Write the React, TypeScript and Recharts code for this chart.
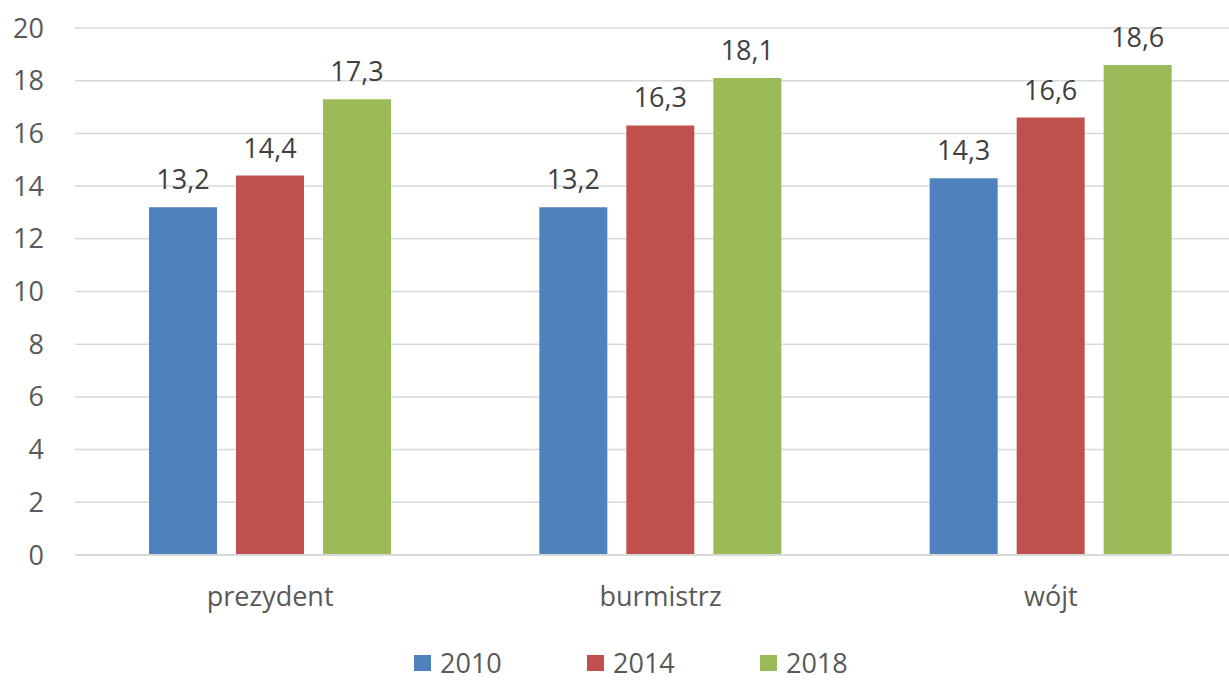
import { BarChart, Bar, XAxis, YAxis, CartesianGrid, Legend, LabelList } from 'recharts';

const categories = ['prezydent', 'burmistrz', 'wójt'];
const years = ['2010', '2014', '2018'];
const values2010 = [13.2, 13.2, 14.3];
const values2014 = [14.4, 16.3, 16.6];
const values2018 = [17.3, 18.1, 18.6];
const yTicks = [0, 2, 4, 6, 8, 10, 12, 14, 16, 18, 20];

const COLORS = ['#4F81BD', '#C0504D', '#9BBB59'];
const FONT = '"Open Sans", sans-serif';

const data = categories.map((name, i) => ({
  name,
  [years[0]]: values2010[i],
  [years[1]]: values2014[i],
  [years[2]]: values2018[i],
}));

const fmt = (v: any) => String(v).replace('.', ',');

function LegendContent({ payload }: any) {
  return (
    <div style={{ height: 50, display: 'flex', alignItems: 'flex-end', paddingLeft: 414, paddingBottom: 4, boxSizing: 'border-box' }}>
      {(payload || []).map((p: any) => (
        <div key={p.value} style={{ width: 173, display: 'flex', alignItems: 'center', fontFamily: FONT, fontSize: 27, color: '#595959', lineHeight: 1 }}>
          <span style={{ width: 17, height: 16, background: p.color, marginRight: 9, display: 'inline-block' }} />
          <span>{p.value}</span>
        </div>
      ))}
    </div>
  );
}

export default function App() {
  return (
    <div style={{ position: 'absolute', left: 0, top: 0, width: 1229, height: 680, overflow: 'hidden', background: '#fff' }}>
      <BarChart
        width={1246}
        height={680}
        data={data}
        margin={{ top: 28, right: 0, left: 0, bottom: 0 }}
        barSize={68}
        barGap={19}
      >
        <CartesianGrid vertical={false} stroke="#d9d9d9" strokeWidth={1.5} />
        <XAxis
          dataKey="name"
          height={75}
          tickLine={false}
          tickSize={0}
          tickMargin={32}
          axisLine={{ stroke: '#d9d9d9', strokeWidth: 2 }}
          tick={{ fill: '#595959', fontSize: 27, fontFamily: FONT }}
        />
        <YAxis
          width={75}
          domain={[0, 20]}
          ticks={yTicks}
          interval={0}
          axisLine={false}
          tickLine={false}
          tickSize={0}
          tickMargin={31}
          tick={{ fill: '#595959', fontSize: 27, fontFamily: FONT }}
        />
        <Legend verticalAlign="bottom" content={<LegendContent />} />
        {years.map((y, i) => (
          <Bar key={y} dataKey={y} fill={COLORS[i]} isAnimationActive={false}>
            <LabelList
              dataKey={y}
              position="top"
              offset={18}
              formatter={fmt}
              style={{ fill: '#404040', fontSize: 27, fontFamily: FONT }}
            />
          </Bar>
        ))}
      </BarChart>
    </div>
  );
}
